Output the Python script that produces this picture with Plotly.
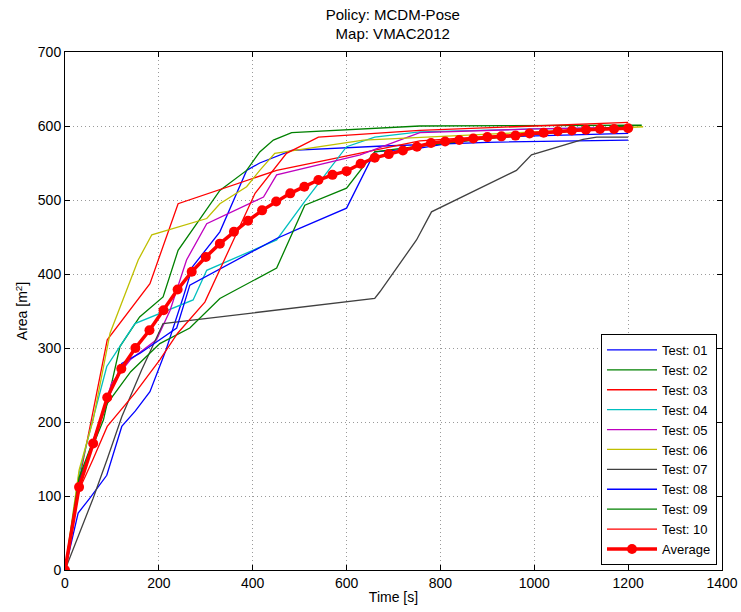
import plotly.graph_objects as go

# ---- data (time [s], area [m^2]) ----
t01 = [0, 28, 53, 89, 121, 150, 181, 215, 252, 272, 330, 387, 415, 483, 678, 900, 1200]
a01 = [0, 77, 97, 128, 194, 215, 241, 297, 369, 410, 457, 540, 550, 567, 573, 578, 581]

t02 = [0, 30, 82, 117, 159, 209, 241, 330, 387, 415, 444, 483, 756, 1000, 1229]
a02 = [0, 122, 203, 302, 342, 369, 432, 513, 540, 565, 581, 591, 600, 601, 601]

t03 = [0, 30, 60, 90, 181, 241, 451, 756, 1000, 1200]
a03 = [0, 120, 215, 311, 387, 495, 540, 580, 590, 597]

t04 = [0, 30, 60, 89, 149, 202, 273, 302, 451, 511, 600, 660, 756, 1000, 1200]
a04 = [0, 130, 205, 275, 333, 347, 365, 405, 446, 498, 572, 585, 592, 596, 598]

t05 = [0, 30, 60, 99, 139, 195, 224, 259, 302, 423, 451, 629, 756, 1000, 1200]
a05 = [0, 115, 170, 252, 284, 311, 351, 419, 468, 504, 534, 561, 591, 596, 598]

t06 = [0, 30, 60, 96, 156, 185, 302, 330, 387, 415, 447, 636, 1000, 1232]
a06 = [0, 135, 203, 320, 419, 453, 475, 495, 518, 540, 563, 581, 592, 599]

t07 = [0, 30, 60, 90, 121, 163, 209, 660, 671, 749, 781, 962, 994, 1104, 1133, 1200]
a07 = [0, 48, 97, 150, 207, 270, 333, 367, 376, 446, 484, 540, 561, 582, 585, 585]

t08 = [0, 30, 75, 121, 160, 202, 238, 266, 451, 501, 600, 660, 756, 900, 1200]
a08 = [0, 118, 203, 279, 293, 311, 327, 385, 448, 462, 489, 565, 570, 585, 590]

t09 = [0, 30, 90, 140, 202, 266, 330, 451, 511, 600, 660, 720, 900, 1200]
a09 = [0, 125, 225, 268, 306, 327, 367, 408, 493, 516, 565, 570, 583, 600]

t10 = [0, 30, 60, 90, 149, 202, 240, 298, 405, 472, 540, 756, 1000, 1200]
a10 = [0, 108, 150, 194, 239, 284, 320, 362, 509, 563, 585, 594, 600, 605]

t_avg = [0, 30, 60, 90, 120, 150, 180, 210, 240, 270, 300, 330, 360, 390, 420,
         450, 480, 510, 540, 570, 600, 630, 660, 690, 720, 750, 780, 810, 840,
         870, 900, 930, 960, 990, 1020, 1050, 1080, 1110, 1140, 1170, 1200]
a_avg = [0, 112, 171, 233, 272, 300, 324, 351, 379, 403, 423, 441, 457, 472, 486,
         498, 509, 518, 527, 534, 539, 549, 557, 562, 567, 572, 577, 579, 581,
         583, 585, 586, 587, 590, 591, 593, 594, 595, 596, 596, 597]

names = ["Test: 01", "Test: 02", "Test: 03", "Test: 04", "Test: 05",
         "Test: 06", "Test: 07", "Test: 08", "Test: 09", "Test: 10"]
series = [(t01, a01), (t02, a02), (t03, a03), (t04, a04), (t05, a05),
          (t06, a06), (t07, a07), (t08, a08), (t09, a09), (t10, a10)]
colors = ["#0000FF", "#008000", "#FF0000", "#00BFBF", "#BF00BF",
          "#BFBF00", "#404040", "#0000FF", "#008000", "#FF0000"]

fig = go.Figure()
for (tx, ay), name, c in zip(series, names, colors):
    fig.add_trace(go.Scatter(x=tx, y=ay, mode="lines", name=name,
                             line=dict(color=c, width=1.3)))
fig.add_trace(go.Scatter(x=t_avg, y=a_avg, mode="lines+markers", name="Average",
                         line=dict(color="#FF0000", width=3.5),
                         marker=dict(color="#FF0000", size=10)))

axis_common = dict(
    showline=True, linecolor="black", linewidth=1, mirror="ticks",
    ticks="inside", ticklen=5, tickcolor="black",
    showgrid=True, gridcolor="#9A9A9A", griddash="1px,3px", gridwidth=1,
    zeroline=False, tickfont=dict(size=14, color="black"),
    automargin=False,
)

fig.update_layout(
    width=741, height=612,
    margin=dict(l=65, r=19, t=52, b=42),
    plot_bgcolor="white", paper_bgcolor="white",
    font=dict(family="Liberation Sans, Arial, sans-serif", size=14, color="black"),
    title=dict(text="Policy: MCDM-Pose<br>Map: VMAC2012", x=0.53, xanchor="center",
               yref="container", y=0.968, yanchor="middle", font=dict(size=15)),
    xaxis=dict(range=[0, 1400], dtick=200,
               title=dict(text="Time [s]", standoff=2, font=dict(size=14)),
               **axis_common),
    yaxis=dict(range=[0, 700], dtick=100,
               title=dict(text="Area [m<sup>2</sup>]", standoff=6, font=dict(size=14)),
               **axis_common),
    legend=dict(x=0.9924, xanchor="right", y=0.0097, yanchor="bottom",
                bgcolor="white", bordercolor="black", borderwidth=1,
                font=dict(size=13), tracegroupgap=0, itemwidth=50),
    showlegend=True,
)

fig.write_html("out.html")
